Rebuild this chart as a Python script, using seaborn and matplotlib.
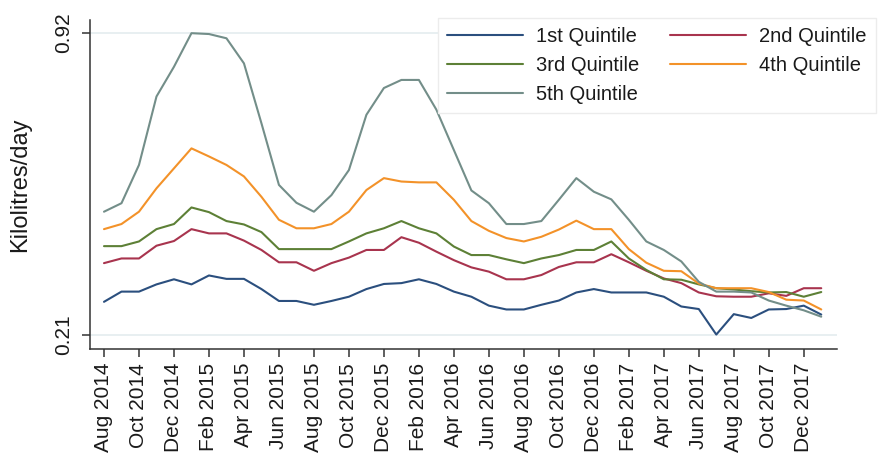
import numpy as np
import pandas as pd
import matplotlib
matplotlib.use("Agg")
import matplotlib.pyplot as plt
import seaborn as sns
from matplotlib.lines import Line2D

# Monthly series, Aug 2014 .. Jan 2018
months = pd.date_range("2014-08-01", "2018-01-01", freq="MS")
month_labels = [d.strftime("%b %Y") for d in months]

quintiles = ["1st Quintile", "2nd Quintile", "3rd Quintile", "4th Quintile", "5th Quintile"]
colors = ["#2b4f7e", "#a8344e", "#5d8036", "#f39229", "#738e89"]

q1 = [0.288, 0.312, 0.312, 0.329, 0.341, 0.329, 0.350, 0.342, 0.342, 0.318,
      0.290, 0.290, 0.281, 0.290, 0.300, 0.318, 0.330, 0.332, 0.341, 0.330,
      0.312, 0.300, 0.279, 0.270, 0.270, 0.281, 0.291, 0.310, 0.318, 0.310,
      0.310, 0.310, 0.300, 0.277, 0.271, 0.211, 0.259, 0.250, 0.270, 0.271,
      0.279, 0.258]
q2 = [0.379, 0.390, 0.390, 0.420, 0.431, 0.459, 0.449, 0.449, 0.432, 0.410,
      0.381, 0.381, 0.361, 0.379, 0.392, 0.410, 0.410, 0.440, 0.427, 0.406,
      0.386, 0.369, 0.359, 0.341, 0.341, 0.351, 0.370, 0.381, 0.381, 0.400,
      0.381, 0.361, 0.343, 0.332, 0.310, 0.301, 0.300, 0.300, 0.308, 0.302,
      0.320, 0.320]
q3 = [0.419, 0.419, 0.430, 0.459, 0.471, 0.510, 0.499, 0.478, 0.470, 0.452,
      0.412, 0.412, 0.412, 0.412, 0.430, 0.449, 0.461, 0.478, 0.461, 0.449,
      0.418, 0.398, 0.398, 0.388, 0.379, 0.390, 0.398, 0.410, 0.410, 0.430,
      0.390, 0.363, 0.341, 0.340, 0.329, 0.320, 0.317, 0.313, 0.310, 0.311,
      0.300, 0.311]
q4 = [0.459, 0.471, 0.500, 0.555, 0.602, 0.649, 0.630, 0.610, 0.583, 0.535,
      0.481, 0.461, 0.461, 0.471, 0.500, 0.551, 0.579, 0.571, 0.569, 0.569,
      0.528, 0.478, 0.455, 0.438, 0.430, 0.441, 0.458, 0.479, 0.459, 0.459,
      0.412, 0.380, 0.361, 0.360, 0.331, 0.320, 0.320, 0.320, 0.311, 0.293,
      0.291, 0.270]
q5 = [0.500, 0.520, 0.610, 0.771, 0.841, 0.920, 0.918, 0.908, 0.849, 0.708,
      0.563, 0.521, 0.500, 0.539, 0.598, 0.728, 0.791, 0.810, 0.810, 0.740,
      0.645, 0.550, 0.520, 0.471, 0.471, 0.478, 0.528, 0.579, 0.547, 0.529,
      0.481, 0.430, 0.410, 0.383, 0.335, 0.312, 0.312, 0.310, 0.291, 0.279,
      0.268, 0.253]

y_ticks = [0.21, 0.92]
y_tick_labels = ["0.21", "0.92"]

n = len(months)
df = pd.DataFrame({
    "month": np.tile(np.arange(n), len(quintiles)),
    "kl": np.concatenate([q1, q2, q3, q4, q5]),
    "quintile": np.repeat(quintiles, n),
})

sns.set_theme(style="ticks")
plt.rcParams["font.family"] = ["Liberation Sans", "DejaVu Sans"]

W, H = 881, 457
fig = plt.figure(figsize=(W / 100, H / 100), dpi=100)
fig.patch.set_facecolor("white")
ax = fig.add_axes([90 / W, 1 - 349 / H, (837 - 90) / W, (349 - 20) / H])

sns.lineplot(data=df, x="month", y="kl", hue="quintile",
             palette=dict(zip(quintiles, colors)), linewidth=1.5,
             ax=ax, legend=False)

ax.set_xlim(-0.8, 41.9)
ax.set_ylim(0.177, 0.951)

ax.set_yticks(y_ticks)
ax.set_yticklabels(y_tick_labels, rotation=90, va="center")
ax.grid(axis="y", color="#e6eef0", linewidth=1.3)
ax.set_axisbelow(True)

xt = np.arange(0, n - 1, 2)
ax.set_xticks(xt)
ax.set_xticklabels([month_labels[i] for i in xt], rotation=90)

ax.set_xlabel("")
ax.set_ylabel("Kilolitres/day", fontsize=17, color="#1a1a1a")
ax.yaxis.set_label_coords(-0.079, 0.5)

for side in ["top", "right"]:
    ax.spines[side].set_visible(False)
for side in ["left", "bottom"]:
    ax.spines[side].set_color("#333333")
    ax.spines[side].set_linewidth(1.1)
ax.tick_params(axis="both", length=6, width=1.1, color="#333333",
               labelsize=15, labelcolor="#1a1a1a")
ax.tick_params(axis="y", pad=6)
ax.tick_params(axis="x", pad=4)

handles = [Line2D([], [], color=c, linewidth=1.5) for c in colors]
order = [0, 2, 4, 1, 3]
leg = fig.legend([handles[i] for i in order], [quintiles[i] for i in order],
                 loc="upper right", bbox_to_anchor=(876 / W, 1 - 18 / H),
                 bbox_transform=fig.transFigure, ncol=2, fontsize=14.5,
                 frameon=True, fancybox=False, framealpha=1,
                 edgecolor="#ececec", facecolor="white",
                 handlelength=3.8, handletextpad=0.65, columnspacing=1.5,
                 labelspacing=0.5, borderpad=0.45, borderaxespad=0)
leg.get_frame().set_linewidth(1.0)
for t in leg.get_texts():
    t.set_color("#1a1a1a")

fig.savefig("out.png", dpi=100, facecolor="white")
